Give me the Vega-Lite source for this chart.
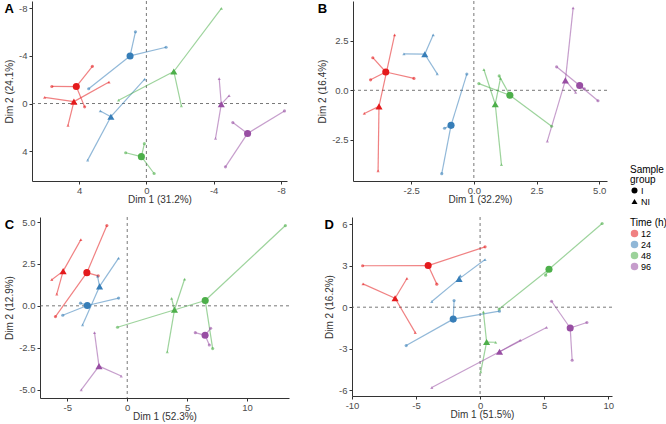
{
  "$schema": "https://vega.github.io/schema/vega-lite/v6.json",
  "padding": {"left": 3, "top": 0, "right": 0, "bottom": 0},
  "background": "white",
  "config": {
    "font": "Liberation Sans",
    "view": {"stroke": null},
    "axis": {"grid": false, "domainColor": "#333333", "tickColor": "#333333", "tickSize": 3, "labelFontSize": 9.5, "labelColor": "#4d4d4d", "titleFontSize": 10, "titleFontWeight": "normal", "titleColor": "#333333", "labelPadding": 2, "titlePadding": 4, "labelFlush": false, "labelOverlap": false},
    "axisX": {"labelPadding": 1, "titlePadding": 0},
    "axisY": {"minExtent": 0},
    "title": {"fontSize": 13, "fontWeight": "bold", "anchor": "start", "frame": "bounds", "offset": -15, "color": "black"},
    "legend": {"titleFontSize": 10, "titleFontWeight": "normal", "titleColor": "black", "titleLineHeight": 10, "labelFontSize": 9, "labelColor": "black", "symbolSize": 36, "rowPadding": -5, "titlePadding": 1, "labelOffset": 2}
  },
  "data": {"values": [
    {"p":"A","t":"12","g":"I","x":5.62,"y":-1.43},{"p":"A","t":"12","g":"I","x":3.21,"y":-3.12},{"p":"A","t":"12","g":"I","x":3.67,"y":0.28},
    {"p":"A","t":"12","g":"NI","x":6.05,"y":-0.51},{"p":"A","t":"12","g":"NI","x":2.22,"y":-1.80},{"p":"A","t":"12","g":"NI","x":4.66,"y":1.83},
    {"p":"A","t":"24","g":"I","x":0.65,"y":-6.01},{"p":"A","t":"24","g":"I","x":-1.17,"y":-4.72},{"p":"A","t":"24","g":"I","x":3.43,"y":-1.24},
    {"p":"A","t":"24","g":"NI","x":2.74,"y":0.62},{"p":"A","t":"24","g":"NI","x":0.10,"y":-2.05},{"p":"A","t":"24","g":"NI","x":3.49,"y":4.75},
    {"p":"A","t":"48","g":"NI","x":-4.46,"y":-7.98},{"p":"A","t":"48","g":"NI","x":1.65,"y":-0.28},{"p":"A","t":"48","g":"NI","x":-2.08,"y":0.20},
    {"p":"A","t":"48","g":"I","x":1.23,"y":4.13},{"p":"A","t":"48","g":"I","x":0.12,"y":3.37},{"p":"A","t":"48","g":"I","x":-0.46,"y":5.87},
    {"p":"A","t":"96","g":"NI","x":-4.33,"y":-2.08},{"p":"A","t":"96","g":"NI","x":-4.92,"y":-0.67},{"p":"A","t":"96","g":"NI","x":-4.11,"y":2.92},
    {"p":"A","t":"96","g":"I","x":-5.14,"y":1.60},{"p":"A","t":"96","g":"I","x":-8.21,"y":0.62},{"p":"A","t":"96","g":"I","x":-4.70,"y":5.31},

    {"p":"B","t":"12","g":"I","x":-4.03,"y":1.65},{"p":"B","t":"12","g":"I","x":-4.12,"y":0.53},{"p":"B","t":"12","g":"I","x":-2.39,"y":0.60},
    {"p":"B","t":"12","g":"NI","x":-3.16,"y":2.81},{"p":"B","t":"12","g":"NI","x":-4.37,"y":-1.17},{"p":"B","t":"12","g":"NI","x":-3.82,"y":-4.08},
    {"p":"B","t":"24","g":"NI","x":-1.62,"y":2.81},{"p":"B","t":"24","g":"NI","x":-2.79,"y":1.84},{"p":"B","t":"24","g":"NI","x":-1.46,"y":0.83},
    {"p":"B","t":"24","g":"I","x":-0.28,"y":0.82},{"p":"B","t":"24","g":"I","x":-1.17,"y":-1.92},{"p":"B","t":"24","g":"I","x":-1.28,"y":-4.22},
    {"p":"B","t":"48","g":"I","x":0.20,"y":0.34},{"p":"B","t":"48","g":"I","x":1.01,"y":0.73},{"p":"B","t":"48","g":"I","x":3.10,"y":-1.82},
    {"p":"B","t":"48","g":"NI","x":0.40,"y":1.05},{"p":"B","t":"48","g":"NI","x":1.06,"y":0.60},{"p":"B","t":"48","g":"NI","x":1.10,"y":-3.76},
    {"p":"B","t":"96","g":"NI","x":3.96,"y":4.17},{"p":"B","t":"96","g":"NI","x":2.93,"y":-2.57},{"p":"B","t":"96","g":"NI","x":4.06,"y":-0.10},
    {"p":"B","t":"96","g":"I","x":3.30,"y":1.19},{"p":"B","t":"96","g":"I","x":4.95,"y":-0.53},{"p":"B","t":"96","g":"I","x":4.41,"y":0.07},

    {"p":"C","t":"12","g":"NI","x":-6.30,"y":1.56},{"p":"C","t":"12","g":"NI","x":-3.87,"y":3.95},{"p":"C","t":"12","g":"NI","x":-5.88,"y":0.70},
    {"p":"C","t":"12","g":"I","x":-1.70,"y":4.79},{"p":"C","t":"12","g":"I","x":-2.42,"y":1.79},{"p":"C","t":"12","g":"I","x":-5.99,"y":-0.64},
    {"p":"C","t":"24","g":"NI","x":-0.72,"y":2.85},{"p":"C","t":"24","g":"NI","x":-3.73,"y":-1.14},{"p":"C","t":"24","g":"NI","x":-2.48,"y":1.77},
    {"p":"C","t":"24","g":"I","x":-0.72,"y":0.46},{"p":"C","t":"24","g":"I","x":-5.38,"y":-0.56},{"p":"C","t":"24","g":"I","x":-3.90,"y":0.16},
    {"p":"C","t":"48","g":"NI","x":4.79,"y":1.60},{"p":"C","t":"48","g":"NI","x":3.70,"y":0.44},{"p":"C","t":"48","g":"NI","x":3.34,"y":-2.75},
    {"p":"C","t":"48","g":"I","x":13.20,"y":4.79},{"p":"C","t":"48","g":"I","x":-0.81,"y":-1.28},{"p":"C","t":"48","g":"I","x":7.13,"y":-2.55},
    {"p":"C","t":"96","g":"I","x":5.68,"y":-1.60},{"p":"C","t":"96","g":"I","x":6.96,"y":-1.34},{"p":"C","t":"96","g":"I","x":6.85,"y":-2.34},
    {"p":"C","t":"96","g":"NI","x":-2.73,"y":-1.60},{"p":"C","t":"96","g":"NI","x":-0.50,"y":-4.19},{"p":"C","t":"96","g":"NI","x":-3.84,"y":-5.01},

    {"p":"D","t":"12","g":"I","x":-9.17,"y":3.00},{"p":"D","t":"12","g":"I","x":0.39,"y":4.37},{"p":"D","t":"12","g":"I","x":-3.38,"y":1.67},
    {"p":"D","t":"12","g":"NI","x":-9.14,"y":1.69},{"p":"D","t":"12","g":"NI","x":-5.71,"y":2.08},{"p":"D","t":"12","g":"NI","x":-5.06,"y":-1.84},
    {"p":"D","t":"24","g":"NI","x":0.39,"y":3.45},{"p":"D","t":"24","g":"NI","x":-3.77,"y":0.41},{"p":"D","t":"24","g":"NI","x":-1.54,"y":2.29},
    {"p":"D","t":"24","g":"I","x":-2.03,"y":0.48},{"p":"D","t":"24","g":"I","x":-5.77,"y":-2.78},{"p":"D","t":"24","g":"I","x":1.51,"y":-0.29},
    {"p":"D","t":"48","g":"I","x":9.53,"y":6.06},{"p":"D","t":"48","g":"I","x":5.12,"y":2.32},{"p":"D","t":"48","g":"I","x":1.49,"y":-0.13},
    {"p":"D","t":"48","g":"NI","x":0.26,"y":-0.34},{"p":"D","t":"48","g":"NI","x":1.22,"y":-2.54},{"p":"D","t":"48","g":"NI","x":0.05,"y":-4.69},
    {"p":"D","t":"96","g":"NI","x":-3.77,"y":-5.82},{"p":"D","t":"96","g":"NI","x":5.19,"y":-1.47},{"p":"D","t":"96","g":"NI","x":3.14,"y":-2.39},
    {"p":"D","t":"96","g":"I","x":5.58,"y":0.43},{"p":"D","t":"96","g":"I","x":8.34,"y":-1.11},{"p":"D","t":"96","g":"I","x":7.19,"y":-3.84}
  ]},
  "transform": [
    {"joinaggregate": [{"op": "mean", "field": "x", "as": "cx"}, {"op": "mean", "field": "y", "as": "cy"}], "groupby": ["p", "t", "g"]}
  ],
  "spacing": 11,
  "vconcat": [
    {"spacing": 0, "hconcat": [
      {"width": 1, "height": 1, "data": {"values": [{}]}, "mark": {"type": "point", "size": 0, "opacity": 0}},
      {"spacing": 29, "hconcat": [
      {
        "width": 255, "height": 180,
        "title": {"text": "A"},
        "layer": [
          {"data": {"values": [{}]}, "mark": {"type": "rule", "strokeDash": [3, 3], "color": "#555555", "strokeWidth": 0.8},
           "encoding": {"x": {"datum": 0, "type": "quantitative", "scale": {"domain": [-8.36, 6.8], "reverse": true, "nice": false, "zero": false}}}},
          {"data": {"values": [{}]}, "mark": {"type": "rule", "strokeDash": [3, 3], "color": "#555555", "strokeWidth": 0.8},
           "encoding": {"y": {"datum": 0, "type": "quantitative", "scale": {"domain": [-8.6, 6.5], "reverse": true, "nice": false, "zero": false}}}},
          {"transform": [{"filter": "datum.p == 'A'"}], "mark": {"type": "rule", "strokeWidth": 1.2, "opacity": 0.55},
           "encoding": {
             "x": {"field": "x", "type": "quantitative", "scale": {"domain": [-8.36, 6.8], "reverse": true, "nice": false, "zero": false}, "axis": {"values": [4, 0, -4, -8], "labelExpr": "replace(datum.label, '−', '-')"}, "title": "Dim 1 (31.2%)"},
             "y": {"field": "y", "type": "quantitative", "scale": {"domain": [-8.6, 6.5], "reverse": true, "nice": false, "zero": false}, "axis": {"values": [-8, -4, 0, 4], "labelExpr": "replace(datum.label, '−', '-')"}, "title": "Dim 2 (24.1%)"},
             "x2": {"field": "cx"}, "y2": {"field": "cy"},
             "color": {"field": "t", "type": "nominal", "scale": {"domain": ["12", "24", "48", "96"], "range": ["#E41A1C", "#377EB8", "#4DAF4A", "#984EA3"]}, "title": "Time (h)", "legend": {"orient": "none", "legendX": 627, "legendY": 217, "symbolType": "circle", "zindex": 1}}
           }},
          {"transform": [{"filter": "datum.p == 'A'"}], "mark": {"type": "point", "filled": true, "opacity": 0.6, "size": 10},
           "encoding": {
             "x": {"field": "x", "type": "quantitative"}, "y": {"field": "y", "type": "quantitative"},
             "color": {"field": "t", "type": "nominal"},
             "shape": {"field": "g", "type": "nominal", "scale": {"domain": ["I", "NI"], "range": ["circle", "triangle-up"]}, "title": ["Sample", "group"], "legend": {"orient": "none", "legendX": 627, "legendY": 164, "symbolFillColor": "black", "symbolStrokeColor": "black", "symbolOpacity": 1}}
           }},
          {"transform": [{"filter": "datum.p == 'A'"}], "mark": {"type": "point", "filled": true, "opacity": 1, "size": 50},
           "encoding": {
             "x": {"aggregate": "mean", "field": "x", "type": "quantitative"}, "y": {"aggregate": "mean", "field": "y", "type": "quantitative"},
             "color": {"field": "t", "type": "nominal"},
             "shape": {"field": "g", "type": "nominal"}
           }}
        ]
      },
      {
        "width": 254, "height": 180,
        "title": {"text": "B"},
        "layer": [
          {"data": {"values": [{}]}, "mark": {"type": "rule", "strokeDash": [3, 3], "color": "#555555", "strokeWidth": 0.8},
           "encoding": {"x": {"datum": 0, "type": "quantitative", "scale": {"domain": [-4.82, 5.31], "nice": false, "zero": false}}}},
          {"data": {"values": [{}]}, "mark": {"type": "rule", "strokeDash": [3, 3], "color": "#555555", "strokeWidth": 0.8},
           "encoding": {"y": {"datum": 0, "type": "quantitative", "scale": {"domain": [-4.59, 4.52], "nice": false, "zero": false}}}},
          {"transform": [{"filter": "datum.p == 'B'"}], "mark": {"type": "rule", "strokeWidth": 1.2, "opacity": 0.55},
           "encoding": {
             "x": {"field": "x", "type": "quantitative", "scale": {"domain": [-4.82, 5.31], "nice": false, "zero": false}, "axis": {"values": [-2.5, 0, 2.5, 5], "format": ".1f", "labelExpr": "replace(datum.label, '−', '-')"}, "title": "Dim 1 (32.2%)"},
             "y": {"field": "y", "type": "quantitative", "scale": {"domain": [-4.59, 4.52], "nice": false, "zero": false}, "axis": {"values": [-2.5, 0, 2.5], "format": ".1f", "labelExpr": "replace(datum.label, '−', '-')"}, "title": "Dim 2 (16.4%)"},
             "x2": {"field": "cx"}, "y2": {"field": "cy"},
             "color": {"field": "t", "type": "nominal"}
           }},
          {"transform": [{"filter": "datum.p == 'B'"}], "mark": {"type": "point", "filled": true, "opacity": 0.6, "size": 10},
           "encoding": {
             "x": {"field": "x", "type": "quantitative"}, "y": {"field": "y", "type": "quantitative"},
             "color": {"field": "t", "type": "nominal"}, "shape": {"field": "g", "type": "nominal"}
           }},
          {"transform": [{"filter": "datum.p == 'B'"}], "mark": {"type": "point", "filled": true, "opacity": 1, "size": 50},
           "encoding": {
             "x": {"aggregate": "mean", "field": "x", "type": "quantitative"}, "y": {"aggregate": "mean", "field": "y", "type": "quantitative"},
             "color": {"field": "t", "type": "nominal"}, "shape": {"field": "g", "type": "nominal"}
           }}
        ]
      }
      ]}
    ]},
    {"spacing": 0, "hconcat": [
      {"width": 1, "height": 1, "data": {"values": [{}]}, "mark": {"type": "point", "size": 0, "opacity": 0}},
      {"spacing": 34, "hconcat": [
      {
        "width": 249, "height": 181,
        "title": {"text": "C"},
        "layer": [
          {"data": {"values": [{}]}, "mark": {"type": "rule", "strokeDash": [3, 3], "color": "#555555", "strokeWidth": 0.8},
           "encoding": {"x": {"datum": 0, "type": "quantitative", "scale": {"domain": [-7.28, 13.5], "nice": false, "zero": false}}}},
          {"data": {"values": [{}]}, "mark": {"type": "rule", "strokeDash": [3, 3], "color": "#555555", "strokeWidth": 0.8},
           "encoding": {"y": {"datum": 0, "type": "quantitative", "scale": {"domain": [-5.5, 5.3], "nice": false, "zero": false}}}},
          {"transform": [{"filter": "datum.p == 'C'"}], "mark": {"type": "rule", "strokeWidth": 1.2, "opacity": 0.55},
           "encoding": {
             "x": {"field": "x", "type": "quantitative", "scale": {"domain": [-7.28, 13.5], "nice": false, "zero": false}, "axis": {"values": [-5, 0, 5, 10], "labelExpr": "replace(datum.label, '−', '-')"}, "title": "Dim 1 (52.3%)"},
             "y": {"field": "y", "type": "quantitative", "scale": {"domain": [-5.5, 5.3], "nice": false, "zero": false}, "axis": {"values": [-5, -2.5, 0, 2.5, 5], "format": ".1f", "labelExpr": "replace(datum.label, '−', '-')"}, "title": "Dim 2 (12.9%)"},
             "x2": {"field": "cx"}, "y2": {"field": "cy"},
             "color": {"field": "t", "type": "nominal"}
           }},
          {"transform": [{"filter": "datum.p == 'C'"}], "mark": {"type": "point", "filled": true, "opacity": 0.6, "size": 10},
           "encoding": {
             "x": {"field": "x", "type": "quantitative"}, "y": {"field": "y", "type": "quantitative"},
             "color": {"field": "t", "type": "nominal"}, "shape": {"field": "g", "type": "nominal"}
           }},
          {"transform": [{"filter": "datum.p == 'C'"}], "mark": {"type": "point", "filled": true, "opacity": 1, "size": 50},
           "encoding": {
             "x": {"aggregate": "mean", "field": "x", "type": "quantitative"}, "y": {"aggregate": "mean", "field": "y", "type": "quantitative"},
             "color": {"field": "t", "type": "nominal"}, "shape": {"field": "g", "type": "nominal"}
           }}
        ]
      },
      {
        "width": 260, "height": 179,
        "title": {"text": "D"},
        "layer": [
          {"data": {"values": [{}]}, "mark": {"type": "rule", "strokeDash": [3, 3], "color": "#555555", "strokeWidth": 0.8},
           "encoding": {"x": {"datum": 0, "type": "quantitative", "scale": {"domain": [-10, 10.3], "nice": false, "zero": false}}}},
          {"data": {"values": [{}]}, "mark": {"type": "rule", "strokeDash": [3, 3], "color": "#555555", "strokeWidth": 0.8},
           "encoding": {"y": {"datum": 0, "type": "quantitative", "scale": {"domain": [-6.43, 6.53], "nice": false, "zero": false}}}},
          {"transform": [{"filter": "datum.p == 'D'"}], "mark": {"type": "rule", "strokeWidth": 1.2, "opacity": 0.55},
           "encoding": {
             "x": {"field": "x", "type": "quantitative", "scale": {"domain": [-10, 10.3], "nice": false, "zero": false}, "axis": {"values": [-10, -5, 0, 5, 10], "labelExpr": "replace(datum.label, '−', '-')"}, "title": "Dim 1 (51.5%)"},
             "y": {"field": "y", "type": "quantitative", "scale": {"domain": [-6.43, 6.53], "nice": false, "zero": false}, "axis": {"values": [-6, -3, 0, 3, 6], "labelExpr": "replace(datum.label, '−', '-')"}, "title": "Dim 2 (16.2%)"},
             "x2": {"field": "cx"}, "y2": {"field": "cy"},
             "color": {"field": "t", "type": "nominal"}
           }},
          {"transform": [{"filter": "datum.p == 'D'"}], "mark": {"type": "point", "filled": true, "opacity": 0.6, "size": 10},
           "encoding": {
             "x": {"field": "x", "type": "quantitative"}, "y": {"field": "y", "type": "quantitative"},
             "color": {"field": "t", "type": "nominal"}, "shape": {"field": "g", "type": "nominal"}
           }},
          {"transform": [{"filter": "datum.p == 'D'"}], "mark": {"type": "point", "filled": true, "opacity": 1, "size": 50},
           "encoding": {
             "x": {"aggregate": "mean", "field": "x", "type": "quantitative"}, "y": {"aggregate": "mean", "field": "y", "type": "quantitative"},
             "color": {"field": "t", "type": "nominal"}, "shape": {"field": "g", "type": "nominal"}
           }}
        ]
      }
      ]}
    ]}
  ]
}
